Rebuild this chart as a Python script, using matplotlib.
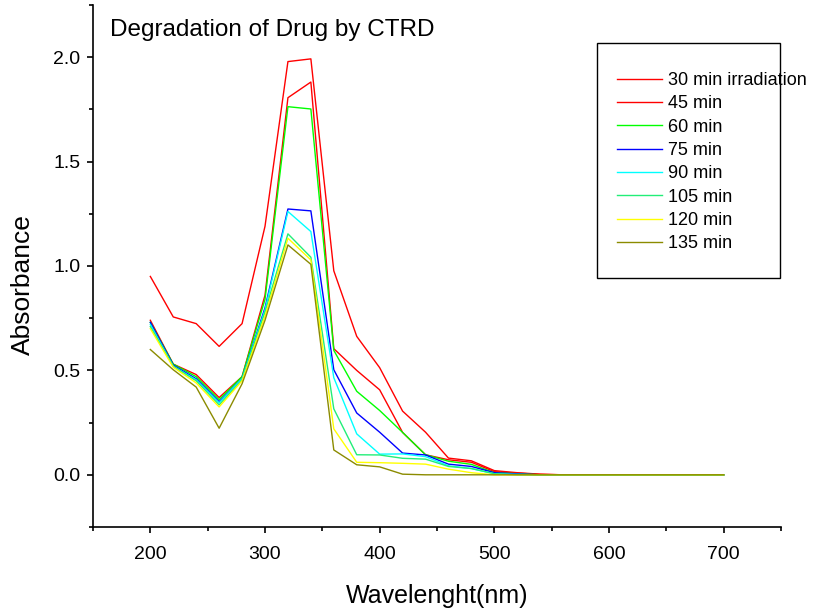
import numpy as np
from matplotlib import pyplot as plt
from matplotlib.ticker import MultipleLocator, FormatStrFormatter
from matplotlib.patches import Rectangle

plt.rcParams['font.family'] = ['Liberation Sans', 'DejaVu Sans']

# wavelength (nm), 20 nm steps
wavelength = [200, 220, 240, 260, 280, 300, 320, 340, 360, 380, 400, 420, 440,
              460, 480, 500, 520, 540, 560, 580, 600, 620, 640, 660, 680, 700]

a30 = [0.95, 0.756, 0.724, 0.615, 0.724, 1.19, 1.979, 1.992, 0.977, 0.663, 0.513, 0.305, 0.204,
       0.080, 0.067, 0.020, 0.010, 0.003, 0, 0, 0, 0, 0, 0, 0, 0]
a45 = [0.74, 0.53, 0.48, 0.37, 0.47, 0.86, 1.806, 1.881, 0.604, 0.500, 0.407, 0.203, 0.096,
       0.072, 0.060, 0.015, 0.008, 0.002, 0, 0, 0, 0, 0, 0, 0, 0]
a60 = [0.73, 0.53, 0.47, 0.36, 0.47, 0.84, 1.763, 1.752, 0.596, 0.400, 0.308, 0.203, 0.096,
       0.065, 0.050, 0.010, 0.005, 0, 0, 0, 0, 0, 0, 0, 0, 0]
a75 = [0.73, 0.525, 0.46, 0.35, 0.46, 0.80, 1.273, 1.264, 0.503, 0.296, 0.204, 0.104, 0.095,
       0.051, 0.040, 0.010, 0.004, 0, 0, 0, 0, 0, 0, 0, 0, 0]
a90 = [0.72, 0.52, 0.455, 0.345, 0.46, 0.79, 1.261, 1.165, 0.465, 0.196, 0.099, 0.100, 0.087,
       0.043, 0.030, 0.005, 0.002, 0, 0, 0, 0, 0, 0, 0, 0, 0]
a105 = [0.71, 0.52, 0.45, 0.335, 0.455, 0.78, 1.154, 1.042, 0.316, 0.096, 0.095, 0.079, 0.075,
        0.040, 0.030, 0.005, 0, 0, 0, 0, 0, 0, 0, 0, 0, 0]
a120 = [0.70, 0.515, 0.44, 0.325, 0.45, 0.76, 1.133, 1.029, 0.220, 0.060, 0.058, 0.055, 0.051,
        0.027, 0.010, 0, 0, 0, 0, 0, 0, 0, 0, 0, 0, 0]
a135 = [0.60, 0.503, 0.42, 0.223, 0.436, 0.74, 1.101, 1.008, 0.119, 0.048, 0.038, 0.003, 0,
        0, 0, 0, 0, 0, 0, 0, 0, 0, 0, 0, 0, 0]

labels = ['30 min irradiation', '45 min', '60 min', '75 min', '90 min',
          '105 min', '120 min', '135 min']
series = [a30, a45, a60, a75, a90, a105, a120, a135]
colors = ['#ff0000', '#ff0000', '#00ff00', '#0000ff', '#00ffff',
          '#22ee77', '#ffff00', '#8b8b00']

fig = plt.figure(figsize=(8.25, 6.11), dpi=100)
ax = fig.add_axes([93 / 825, 1 - 527 / 611, (781 - 93) / 825, (527 - 5) / 611])

for y, c, lab in zip(series, colors, labels):
    ax.plot(wavelength, y, color=c, linewidth=1.0, label=lab)

ax.set_xlim(150, 750)
ax.set_ylim(-0.25, 2.25)
ax.xaxis.set_major_locator(MultipleLocator(100))
ax.xaxis.set_minor_locator(MultipleLocator(50))
ax.yaxis.set_major_locator(MultipleLocator(0.5))
ax.yaxis.set_minor_locator(MultipleLocator(0.25))
ax.yaxis.set_major_formatter(FormatStrFormatter('%.1f'))

for s in ['top', 'right']:
    ax.spines[s].set_visible(False)
for s in ['left', 'bottom']:
    ax.spines[s].set_linewidth(1.2)

ax.tick_params(which='major', direction='out', length=4, width=1.2, labelsize=14)
ax.tick_params(axis='x', which='major', pad=10)
ax.tick_params(axis='y', which='major', pad=5)
ax.tick_params(which='minor', direction='out', length=3, width=1.2)

ax.set_xlabel('Wavelenght(nm)', fontsize=18, labelpad=15)
ax.set_ylabel('Absorbance', fontsize=19)
ax.yaxis.set_label_coords(-0.084, 0.4636)

fig.text(110 / 825, 1 - 30 / 611, 'Degradation of Drug by CTRD', fontsize=17.5, va='center')

# legend box (text overflows the frame like in the original)
fig.patches.append(Rectangle((597 / 825, 1 - 278 / 611), (780 - 597) / 825, (278 - 43) / 611,
                             transform=fig.transFigure, fill=False, edgecolor='black',
                             linewidth=1.0))
leg = fig.legend(loc='upper left', bbox_to_anchor=(617 / 825, 1 - 72 / 611),
                 frameon=False, fontsize=13, handlelength=2.5, handletextpad=0.35,
                 labelspacing=0.35, borderpad=0, borderaxespad=0)

plt.savefig('out.png', dpi=100)
